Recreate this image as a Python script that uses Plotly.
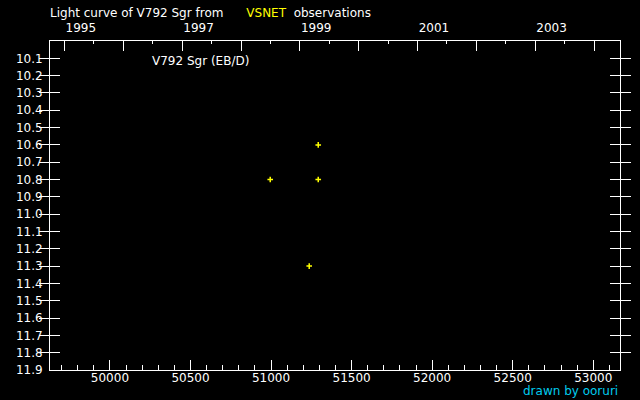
import datetime
import plotly.graph_objects as go

# observations (MJD, visual magnitude)
mjd = [50995, 51237, 51293, 51293]
mag = [10.8, 11.3, 10.6, 10.8]

star = "V792 Sgr"
star_type = "EB/D"
years = list(range(1995, 2005))
year_labels = [str(y) if y % 2 == 1 else "" for y in years]
mag_ticks = [round(10.1 + 0.1 * i, 1) for i in range(19)]
mjd_ticks = [50000, 50500, 51000, 51500, 52000, 52500, 53000]


def to_mjd(d):
    return (d - datetime.date(1858, 11, 17)).days


year_mjd = [to_mjd(datetime.date(y, 1, 1)) for y in years]
half_mjd = [to_mjd(datetime.date(y, 7, 2)) for y in range(1994, 2005)]

xr = [49628, 53166]
font = dict(family="DejaVu Sans", size=12, color="white")

fig = go.Figure()
fig.add_trace(go.Scatter(x=mjd, y=mag, mode="markers",
                         marker=dict(symbol="cross-thin", size=4, color="yellow",
                                     line=dict(color="yellow", width=1.5)),
                         showlegend=False))
# empty trace to get the top (year) axis drawn
fig.add_trace(go.Scatter(x=xr, y=[10.0, 10.0], xaxis="x2", mode="none",
                         showlegend=False, hoverinfo="skip"))

fig.update_layout(
    width=640, height=400,
    margin=dict(l=50, r=20, t=41, b=30),
    paper_bgcolor="black", plot_bgcolor="black",
    font=font,
    xaxis=dict(range=xr, showgrid=False, zeroline=False,
               showline=True, linecolor="white", linewidth=1,
               tickvals=mjd_ticks, ticktext=[str(v) for v in mjd_ticks],
               ticks="inside", ticklen=10, tickcolor="white",
               minor=dict(dtick=100, tick0=0, ticks="inside", ticklen=5, tickcolor="white"),
               tickfont=font, ticklabelstandoff=-3),
    xaxis2=dict(range=xr, overlaying="x", side="top", anchor="y",
                showgrid=False, zeroline=False,
                showline=True, linecolor="white", linewidth=1,
                tickvals=year_mjd, ticktext=year_labels,
                ticks="inside", ticklen=10, tickcolor="white",
                ticklabelposition="outside right", ticklabelstandoff=3,
                minor=dict(tickvals=half_mjd, ticks="inside", ticklen=3, tickcolor="white"),
                tickfont=font),
    yaxis=dict(range=[11.9, 10.0], showgrid=False, zeroline=False,
               showline=True, linecolor="white", linewidth=1, mirror="allticks",
               tickvals=mag_ticks, ticktext=[f"{v:.1f}" for v in mag_ticks],
               ticks="inside", ticklen=10, tickcolor="white", tickfont=font,
               ticklabelstandoff=4),
)

fig.add_annotation(xref="paper", yref="paper", x=0.0, y=1.0, yshift=28, xshift=-2,
                   xanchor="left", yanchor="middle", showarrow=False,
                   text=f"Light curve of {star} from      <span style='color:yellow'>VSNET</span>  observations",
                   font=font)
fig.add_annotation(xref="paper", yref="paper", x=0.175, y=1.0, yshift=-20,
                   xanchor="left", yanchor="middle", showarrow=False,
                   text=f"{star} ({star_type})", font=font)
fig.add_annotation(xref="paper", yref="paper", x=1.0, y=0.0, yshift=-21, xshift=0,
                   xanchor="right", yanchor="middle", showarrow=False,
                   text="drawn by ooruri", font=dict(family="DejaVu Sans", size=12, color="#00ccee"))

fig.write_html("out.html", config={"displayModeBar": False},
               post_script="document.body.style.margin='0';")
